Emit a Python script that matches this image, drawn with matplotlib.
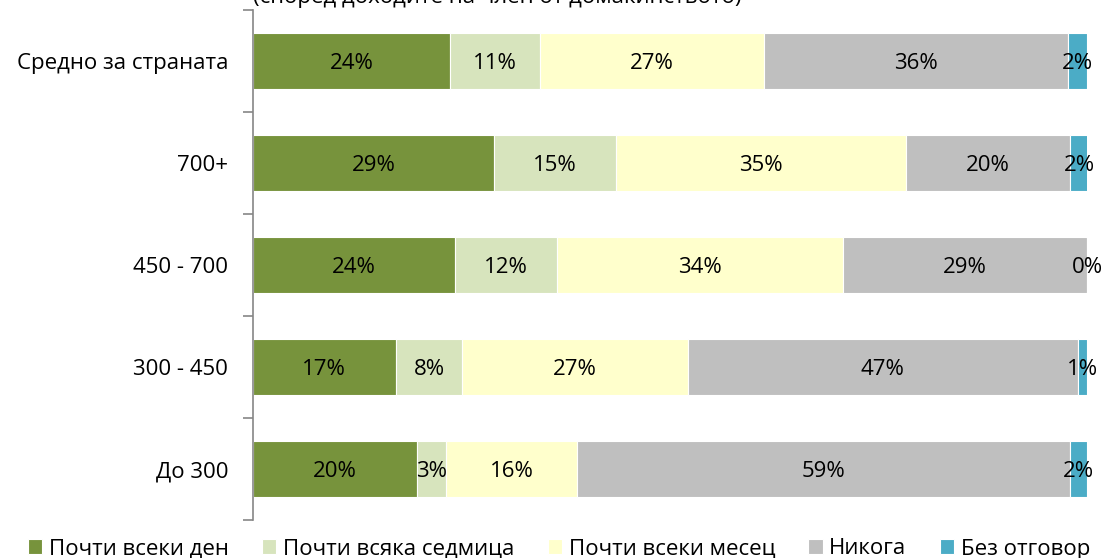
import matplotlib
matplotlib.use("Agg")
import matplotlib.pyplot as plt
import numpy as np

plt.rcParams["font.family"] = ["Open Sans", "DejaVu Sans"]

categories = ["Средно за страната", "700+", "450 - 700", "300 - 450", "До 300"]
series = ["Почти всеки ден", "Почти всяка седмица", "Почти всеки месец", "Никога", "Без отговор"]
colors = ["#77933C", "#D7E4BD", "#FFFFCC", "#BFBFBF", "#4BACC6"]

# values per series, in the order of categories
daily = [23.6, 28.9, 24.2, 17.1, 19.7]
weekly = [10.8, 14.6, 12.2, 8.0, 3.4]
monthly = [26.9, 34.8, 34.3, 27.0, 15.8]
never = [36.4, 19.7, 29.3, 46.8, 59.1]
no_answer = [2.3, 2.1, 0.0, 1.1, 2.0]

title = "(според доходите на член от домакинството)"

data = np.array([daily, weekly, monthly, never, no_answer])

fig = plt.figure(figsize=(11.06, 5.58), dpi=100)
ax = fig.add_axes([253 / 1106, 38 / 558, (1087 - 253) / 1106, 510 / 558])

y = np.arange(len(categories))[::-1]
left = np.zeros(len(categories))
for i, (name, col) in enumerate(zip(series, colors)):
    vals = data[i]
    ax.barh(y, vals, left=left, height=0.55, color=col, edgecolor="white",
            linewidth=0.8, label=name)
    for yy, l, v in zip(y, left, vals):
        ax.text(l + v / 2, yy - 0.02, f"{v:.0f}%", ha="center", va="center", fontsize=16)
    left += vals

ax.set_xlim(0, 100)
ax.set_ylim(-0.5, len(categories) - 0.5)
ax.set_yticks(y)
ax.set_yticklabels(categories, fontsize=16)
ax.tick_params(axis="y", which="major", length=0, pad=18)
ax.set_yticks(np.arange(-0.5, len(categories)), minor=True)
ax.tick_params(axis="y", which="minor", length=7, color="#868686", width=1.2)
ax.set_xticks([])
for s in ["top", "right", "bottom"]:
    ax.spines[s].set_visible(False)
ax.spines["left"].set_color("#868686")
ax.spines["left"].set_linewidth(1.2)

fig.text(253 / 1106, 1 - 3 / 558, title, ha="left", va="baseline", fontsize=16)

handles, labels = ax.get_legend_handles_labels()
fig.legend(handles, labels, loc="center", bbox_to_anchor=(559 / 1106, 1 - 549 / 558), ncol=5,
           frameon=False, fontsize=16, handlelength=0.64, handleheight=0.64,
           handletextpad=0.3, columnspacing=1.5, borderpad=0, borderaxespad=0)

fig.savefig("out.png", dpi=100)
